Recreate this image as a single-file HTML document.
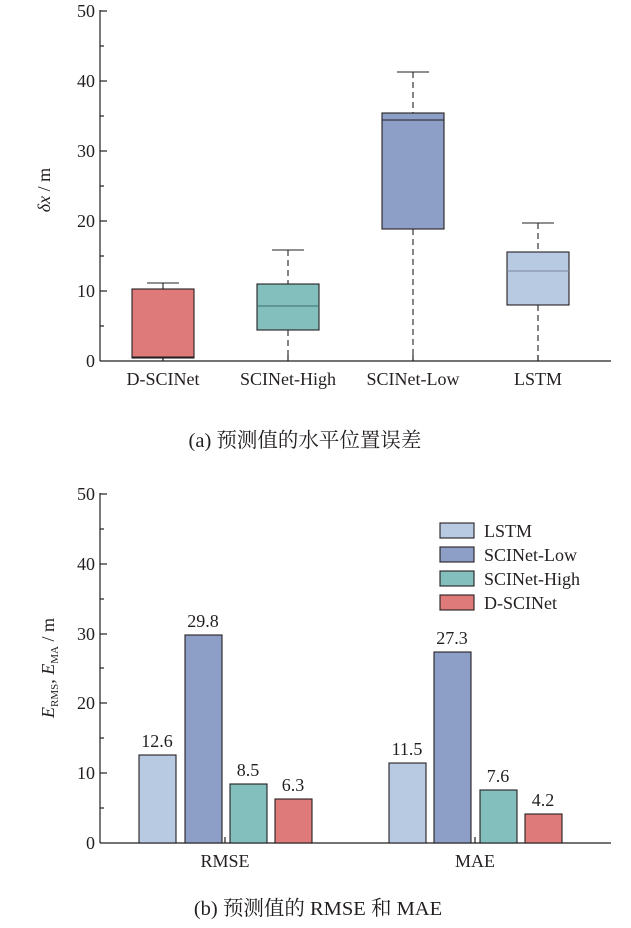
<!DOCTYPE html>
<html><head><meta charset="utf-8"><style>
html,body{margin:0;padding:0;background:#fff}
text{font-family:"Liberation Serif","Noto Serif CJK SC",serif;fill:#231f20}
</style></head><body>
<svg width="631" height="923" xmlns="http://www.w3.org/2000/svg">
<g stroke="#231f20" stroke-width="1.2" fill="none">
<line x1="100" y1="10" x2="100" y2="361"/>
<line x1="100" y1="361" x2="611" y2="361"/>
<line x1="100" y1="11" x2="107" y2="11"/><line x1="100" y1="81" x2="107" y2="81"/><line x1="100" y1="151" x2="107" y2="151"/><line x1="100" y1="221" x2="107" y2="221"/><line x1="100" y1="291" x2="107" y2="291"/>
<line x1="100" y1="46" x2="104" y2="46"/><line x1="100" y1="116" x2="104" y2="116"/><line x1="100" y1="186" x2="104" y2="186"/><line x1="100" y1="256" x2="104" y2="256"/><line x1="100" y1="326" x2="104" y2="326"/>
<line x1="163" y1="361" x2="163" y2="355"/><line x1="288" y1="361" x2="288" y2="355"/><line x1="413" y1="361" x2="413" y2="355"/><line x1="538" y1="361" x2="538" y2="355"/>
</g>
<g stroke="#231f20" stroke-width="1.1">
<line x1="163" y1="283" x2="163" y2="289"/><line x1="147" y1="283" x2="179" y2="283"/>
<rect x="132" y="289" width="62" height="69" fill="#df7a7b"/>
<line x1="132" y1="357" x2="194" y2="357"/>
<line x1="288" y1="250" x2="288" y2="284" stroke-dasharray="6,4"/><line x1="272" y1="250" x2="304" y2="250"/>
<line x1="288" y1="330" x2="288" y2="361" stroke-dasharray="6,4"/>
<rect x="257" y="284" width="62" height="46" fill="#83bfbd"/>
<line x1="257" y1="306" x2="319" y2="306" stroke="#3d6f6b"/>
<line x1="413" y1="72" x2="413" y2="113" stroke-dasharray="6,4"/><line x1="397" y1="72" x2="429" y2="72"/>
<line x1="413" y1="229" x2="413" y2="361" stroke-dasharray="6,4"/>
<rect x="382" y="113" width="62" height="116" fill="#8e9fc7"/>
<line x1="382" y1="120" x2="444" y2="120"/>
<line x1="538" y1="223" x2="538" y2="252" stroke-dasharray="6,4"/><line x1="522" y1="223" x2="554" y2="223"/>
<line x1="538" y1="305" x2="538" y2="361" stroke-dasharray="6,4"/>
<rect x="507" y="252" width="62" height="53" fill="#b8c9e2"/>
<line x1="507" y1="271" x2="569" y2="271" stroke="#7a869a"/>
</g>
<g font-size="18" text-anchor="end">
<text x="95" y="17">50</text><text x="95" y="87">40</text><text x="95" y="157">30</text><text x="95" y="227">20</text><text x="95" y="297">10</text><text x="95" y="367">0</text>
</g>
<g font-size="18" text-anchor="middle">
<text x="163" y="385">D-SCINet</text><text x="288" y="385">SCINet-High</text><text x="413" y="385">SCINet-Low</text><text x="538" y="385">LSTM</text>
</g>
<text font-size="18" transform="translate(50,190) rotate(-90)" text-anchor="middle"><tspan font-style="italic">δx</tspan> / m</text>
<text x="305" y="447" font-size="20.5" text-anchor="middle">(a)  预测值的水平位置误差</text>

<g stroke="#231f20" stroke-width="1.2" fill="none">
<line x1="100" y1="493" x2="100" y2="843"/>
<line x1="100" y1="843" x2="611" y2="843"/>
<line x1="100" y1="494" x2="107" y2="494"/><line x1="100" y1="564" x2="107" y2="564"/><line x1="100" y1="634" x2="107" y2="634"/><line x1="100" y1="703" x2="107" y2="703"/><line x1="100" y1="773" x2="107" y2="773"/>
<line x1="100" y1="529" x2="104" y2="529"/><line x1="100" y1="599" x2="104" y2="599"/><line x1="100" y1="668" x2="104" y2="668"/><line x1="100" y1="738" x2="104" y2="738"/><line x1="100" y1="808" x2="104" y2="808"/>
<line x1="225" y1="843" x2="225" y2="837"/><line x1="475" y1="843" x2="475" y2="837"/>
</g>
<g stroke="#231f20" stroke-width="1.1">
<rect x="139" y="755" width="37" height="88" fill="#b8c9e2"/>
<rect x="185" y="635" width="37" height="208" fill="#8e9fc7"/>
<rect x="230" y="784" width="37" height="59" fill="#83bfbd"/>
<rect x="275" y="799" width="37" height="44" fill="#df7a7b"/>
<rect x="389" y="763" width="37" height="80" fill="#b8c9e2"/>
<rect x="434" y="652" width="37" height="191" fill="#8e9fc7"/>
<rect x="480" y="790" width="37" height="53" fill="#83bfbd"/>
<rect x="525" y="814" width="37" height="29" fill="#df7a7b"/>
<rect x="440" y="523" width="34" height="15" fill="#b8c9e2"/>
<rect x="440" y="547" width="34" height="15" fill="#8e9fc7"/>
<rect x="440" y="571" width="34" height="15" fill="#83bfbd"/>
<rect x="440" y="595" width="34" height="15" fill="#df7a7b"/>
</g>
<g font-size="18">
<text x="484" y="537">LSTM</text><text x="484" y="561">SCINet-Low</text><text x="484" y="585">SCINet-High</text><text x="484" y="609">D-SCINet</text>
</g>
<g font-size="18" text-anchor="end">
<text x="95" y="500">50</text><text x="95" y="570">40</text><text x="95" y="640">30</text><text x="95" y="709">20</text><text x="95" y="779">10</text><text x="95" y="849">0</text>
</g>
<g font-size="18" text-anchor="middle">
<text x="157" y="747">12.6</text><text x="203" y="627">29.8</text><text x="248" y="776">8.5</text><text x="293" y="791">6.3</text>
<text x="407" y="755">11.5</text><text x="452" y="644">27.3</text><text x="498" y="782">7.6</text><text x="543" y="806">4.2</text>
<text x="225" y="867">RMSE</text><text x="475" y="867">MAE</text>
</g>
<text font-size="18" transform="translate(54,668) rotate(-90)" text-anchor="middle"><tspan font-style="italic">E</tspan><tspan font-size="11" dy="4">RMS</tspan><tspan dy="-4">, </tspan><tspan font-style="italic">E</tspan><tspan font-size="11" dy="4">MA</tspan><tspan dy="-4"> / m</tspan></text>
<text x="318" y="915" font-size="20.5" text-anchor="middle">(b)  预测值的 RMSE 和 MAE</text>
</svg>
</body></html>
